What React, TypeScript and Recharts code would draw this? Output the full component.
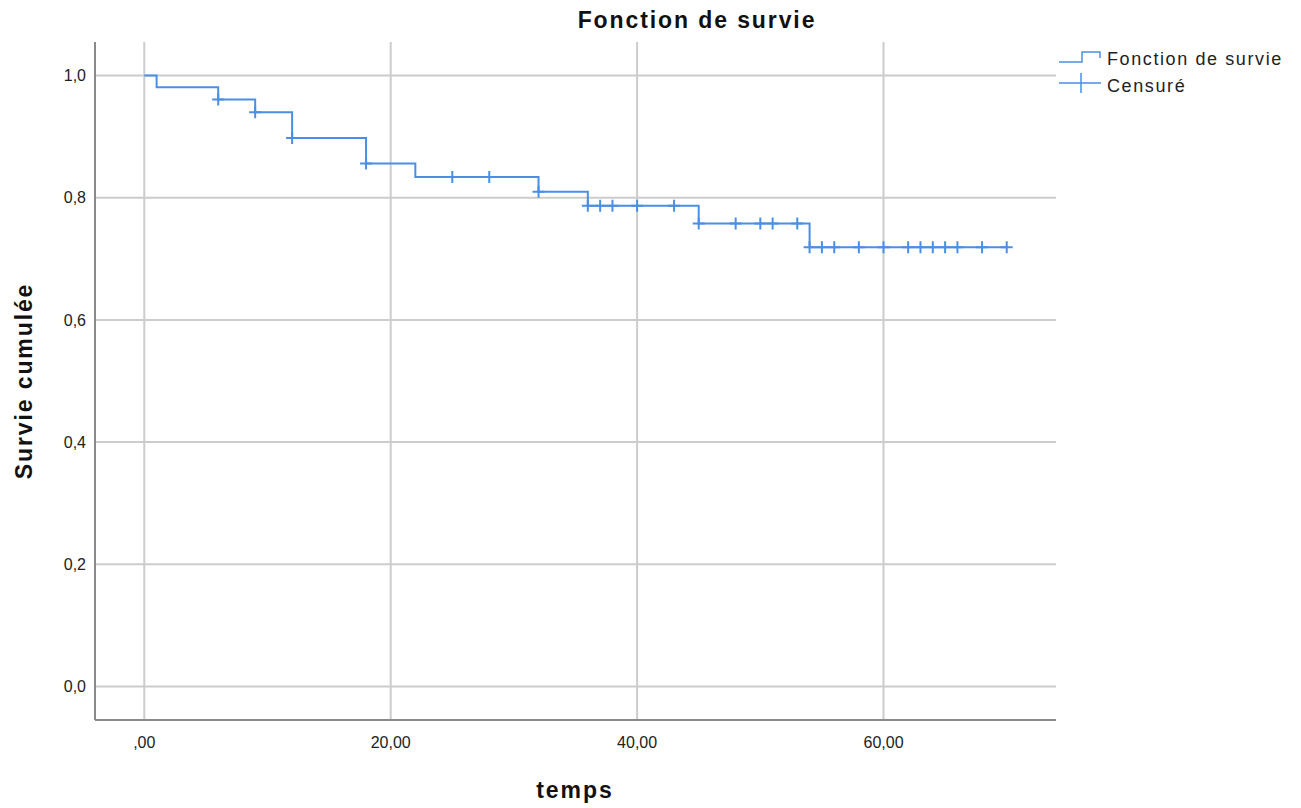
import React from "react";
import {
    ComposedChart,
    Line,
    Scatter,
    XAxis,
    YAxis,
    CartesianGrid,
    Customized,
} from "recharts";

// Kaplan-Meier steps
const eventTimes = [0, 1, 6, 9, 12, 18, 22, 32, 36, 45, 54];
const survival = [1.0, 0.981, 0.961, 0.94, 0.898, 0.856, 0.834, 0.81, 0.787, 0.758, 0.719];
const lastTime = 70;

// censored observations (+ marks)
const censoredTimes = [
    6, 9, 12, 18, 25, 28, 32, 36, 37, 38, 40, 43, 45, 48, 50, 51, 53, 54, 55, 56,
    58, 60, 62, 63, 64, 65, 66, 68, 70,
];

const xTicks = [0, 20, 40, 60];
const yTicks = [0, 0.2, 0.4, 0.6, 0.8, 1.0];

const BLUE = "#4a8fe4";
const FONT = "'Liberation Sans', Arial, sans-serif";

const survivalAt = (t: number) => {
    let s = survival[0];
    eventTimes.forEach((e, i) => {
        if (e <= t) s = survival[i];
    });
    return s;
};

const stepData = [
    ...eventTimes.map((t, i) => ({ t, s: survival[i] })),
    { t: lastTime, s: survival[survival.length - 1] },
];
const censorData = censoredTimes.map((t) => ({ t, s: survivalAt(t) }));

const fmtX = (v: number) => (v === 0 ? ",00" : v.toFixed(2).replace(".", ","));
const fmtY = (v: number) => v.toFixed(1).replace(".", ",");

const PlusMark = (props: any) => {
    const { cx, cy } = props;
    if (cx == null || cy == null) return null;
    return (
        <path
            d={`M${cx - 6},${cy}H${cx + 6}M${cx},${cy - 6}V${cy + 6}`}
            stroke={BLUE}
            strokeWidth={2}
            fill="none"
        />
    );
};

const Texts = () => (
    <g fontFamily={FONT}>
        <text x={697} y={28} textAnchor="middle" fontSize={23} fontWeight="bold" fill="#111" letterSpacing={1.9}>
            Fonction de survie
        </text>
        <text
            x={24}
            y={381}
            textAnchor="middle"
            dominantBaseline="central"
            fontSize={23}
            fontWeight="bold"
            fill="#111"
            letterSpacing={1.9}
            transform="rotate(-90, 24, 381)"
        >
            Survie cumulée
        </text>
        <text x={575} y={798} textAnchor="middle" fontSize={23} fontWeight="bold" fill="#111" letterSpacing={2}>
            temps
        </text>
        {/* legend */}
        <path d="M1059,62H1082V52H1100V58" stroke={BLUE} strokeWidth={1.5} fill="none" />
        <text x={1107} y={65} fontSize={18} fill="#222" letterSpacing={1.6}>
            Fonction de survie
        </text>
        <path d="M1059,83H1101M1081,73V93" stroke={BLUE} strokeWidth={1.5} fill="none" />
        <text x={1107} y={92} fontSize={18} fill="#222" letterSpacing={1.6}>
            Censuré
        </text>
    </g>
);

const App = () => {
    return (
        <div style={{ position: "absolute", left: 0, top: 0, width: 1301, height: 808, background: "#fff" }}>
            <ComposedChart
                width={1301}
                height={808}
                margin={{ top: 42, right: 245, bottom: 0, left: 0 }}
            >
                <CartesianGrid stroke="#cccccc" strokeWidth={2} syncWithTicks />
                <XAxis
                    dataKey="t"
                    type="number"
                    domain={[-4, 74]}
                    ticks={xTicks}
                    tickFormatter={fmtX}
                    height={88}
                    tickLine={false}
                    tickSize={0}
                    tickMargin={17}
                    axisLine={{ stroke: "#8a8a8a", strokeWidth: 2 }}
                    tick={{ fill: "#222", fontSize: 16, fontFamily: FONT }}
                    allowDataOverflow
                />
                <YAxis
                    dataKey="s"
                    type="number"
                    domain={[-0.055, 1.055]}
                    ticks={yTicks}
                    tickFormatter={fmtY}
                    width={95}
                    tickLine={false}
                    tickSize={0}
                    tickMargin={9}
                    axisLine={{ stroke: "#8a8a8a", strokeWidth: 2 }}
                    tick={{ fill: "#222", fontSize: 16, fontFamily: FONT }}
                    allowDataOverflow
                />
                <Line
                    data={stepData}
                    dataKey="s"
                    type="stepAfter"
                    stroke={BLUE}
                    strokeWidth={2}
                    dot={false}
                    activeDot={false}
                    isAnimationActive={false}
                />
                <Scatter
                    data={censorData}
                    dataKey="s"
                    shape={PlusMark}
                    isAnimationActive={false}
                />
                <Customized component={Texts} />
            </ComposedChart>
        </div>
    );
};

export default App;
